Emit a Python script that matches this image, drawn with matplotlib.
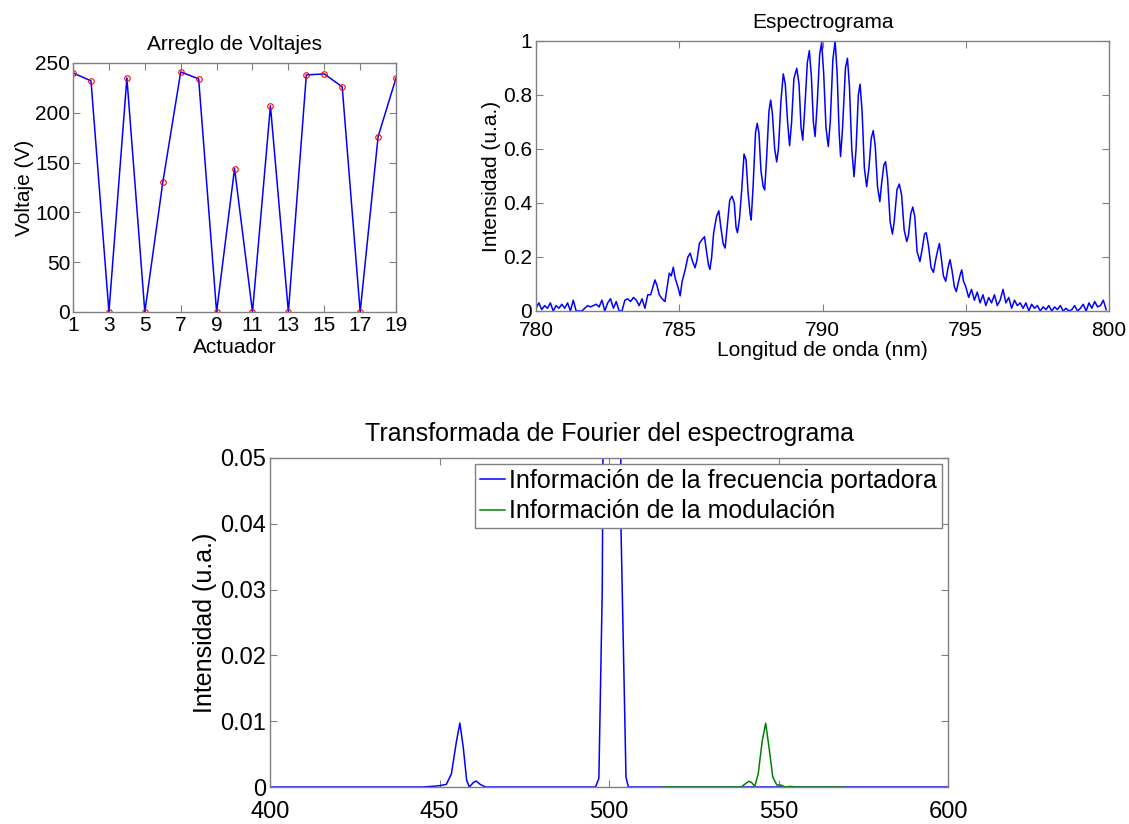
import numpy as np
import matplotlib
matplotlib.use('Agg')
import matplotlib.pyplot as plt

plt.rcParams['font.family'] = ['Liberation Sans', 'DejaVu Sans']

# --- Arreglo de Voltajes ---
actuators = list(range(1, 20))
voltages = [240, 232, 0, 235, 0, 130, 241, 234, 0, 144, 0, 207, 0, 238, 239, 226, 0, 176, 235]
volt_xticks = [1, 3, 5, 7, 9, 11, 13, 15, 17, 19]
volt_yticks = [0, 50, 100, 150, 200, 250]

# --- Espectrograma ---
base_left_nm = [780.0, 780.1, 780.2, 780.3, 780.4, 780.5, 780.6, 780.7, 780.8, 780.9,
                781.0, 781.1, 781.2, 781.3, 781.4, 781.5, 781.6, 781.7, 781.8, 781.9,
                782.0, 782.1, 782.2, 782.3, 782.4, 782.5, 782.6, 782.7, 782.8, 782.9,
                783.0, 783.1, 783.2, 783.3, 783.4, 783.5, 783.6, 783.7, 783.8, 783.9]
base_left_val = [0.01, 0.03, 0.005, 0.02, 0.01, 0.03, 0.0, 0.02, 0.01, 0.025,
                 0.01, 0.03, 0.0, 0.04, 0.0, 0.0, 0.0, 0.01, 0.02, 0.015,
                 0.02, 0.025, 0.015, 0.04, 0.0, 0.03, 0.045, 0.01, 0.035, 0.0,
                 0.0, 0.04, 0.045, 0.035, 0.05, 0.04, 0.02, 0.045, 0.01, 0.06]
fringe_nm = [784.0, 784.08, 784.15, 784.22, 784.3, 784.4, 784.5, 784.58, 784.65, 784.72,
             784.79, 784.86, 784.95, 785.03, 785.1, 785.2, 785.3, 785.38, 785.46, 785.55,
             785.62, 785.7, 785.8, 785.88, 785.95, 786.02, 786.07, 786.13, 786.2, 786.3,
             786.38, 786.45, 786.53, 786.6, 786.68, 786.76, 786.84, 786.92, 786.98, 787.03,
             787.1, 787.18, 787.26, 787.33, 787.4, 787.47, 787.51, 787.58, 787.66, 787.72,
             787.78, 787.85, 787.93, 787.98, 788.05, 788.13, 788.19, 788.25, 788.33, 788.4,
             788.46, 788.55, 788.63, 788.7, 788.78, 788.85, 788.92, 789.0, 789.1, 789.18,
             789.25, 789.31, 789.38, 789.47, 789.54, 789.61, 789.68, 789.74, 789.81, 789.9,
             789.97, 790.04, 790.12, 790.2, 790.27, 790.36, 790.44, 790.51, 790.58, 790.63,
             790.7, 790.8, 790.87, 790.94, 791.02, 791.1, 791.17, 791.25, 791.31, 791.38,
             791.46, 791.54, 791.62, 791.7, 791.77, 791.84, 791.92, 792.0, 792.06, 792.14,
             792.2, 792.27, 792.36, 792.44, 792.5, 792.6, 792.68, 792.76, 792.85, 792.94,
             793.0, 793.08, 793.15, 793.22, 793.3, 793.4, 793.48, 793.56, 793.62, 793.7,
             793.79, 793.87, 793.95, 794.03, 794.08, 794.14, 794.22, 794.3, 794.38, 794.45,
             794.52, 794.6, 794.67, 794.75, 794.82, 794.86, 794.92]
fringe_val = [0.06, 0.09, 0.115, 0.095, 0.06, 0.045, 0.035, 0.09, 0.14, 0.13,
              0.162, 0.12, 0.09, 0.056, 0.11, 0.15, 0.2, 0.214, 0.185, 0.16,
              0.19, 0.25, 0.265, 0.275, 0.22, 0.17, 0.154, 0.2, 0.29, 0.35,
              0.371, 0.31, 0.25, 0.233, 0.32, 0.41, 0.425, 0.40, 0.31, 0.29,
              0.34, 0.45, 0.581, 0.56, 0.44, 0.36, 0.337, 0.47, 0.66, 0.695,
              0.66, 0.52, 0.46, 0.448, 0.57, 0.74, 0.781, 0.73, 0.6, 0.552,
              0.6, 0.78, 0.878, 0.84, 0.7, 0.612, 0.7, 0.86, 0.899, 0.84,
              0.68, 0.633, 0.75, 0.92, 0.964, 0.87, 0.70, 0.646, 0.76, 0.95,
              0.994, 0.88, 0.68, 0.609, 0.7, 0.93, 1.0, 0.88, 0.66, 0.572,
              0.68, 0.9, 0.936, 0.83, 0.6, 0.497, 0.6, 0.80, 0.84, 0.74,
              0.53, 0.46, 0.53, 0.64, 0.668, 0.61, 0.46, 0.405, 0.47, 0.54,
              0.553, 0.49, 0.33, 0.285, 0.33, 0.45, 0.47, 0.43, 0.30, 0.257,
              0.28, 0.36, 0.385, 0.35, 0.22, 0.183, 0.23, 0.285, 0.29, 0.24,
              0.16, 0.143, 0.19, 0.23, 0.25, 0.2, 0.13, 0.11, 0.16, 0.19,
              0.15, 0.09, 0.072, 0.11, 0.14, 0.152, 0.11]
base_right_nm = [795.0, 795.1, 795.2, 795.3, 795.4, 795.5, 795.6, 795.7, 795.8, 795.9,
                 796.0, 796.1, 796.2, 796.3, 796.4, 796.5, 796.6, 796.7, 796.8, 796.9,
                 797.0, 797.1, 797.2, 797.3, 797.4, 797.5, 797.6, 797.7, 797.8, 797.9,
                 798.0, 798.1, 798.2, 798.3, 798.4, 798.5, 798.6, 798.7, 798.8, 798.9,
                 799.0, 799.1, 799.2, 799.3, 799.4, 799.5, 799.6, 799.7, 799.8, 799.9]
base_right_val = [0.09, 0.05, 0.08, 0.04, 0.07, 0.03, 0.06, 0.02, 0.05, 0.03,
                  0.06, 0.02, 0.04, 0.08, 0.03, 0.05, 0.01, 0.04, 0.02, 0.03,
                  0.01, 0.03, 0.0, 0.025, 0.01, 0.02, 0.0, 0.015, 0.005, 0.02,
                  0.0, 0.015, 0.005, 0.02, 0.0, 0.01, 0.0, 0.005, 0.02, 0.0,
                  0.01, 0.025, 0.0, 0.03, 0.01, 0.035, 0.015, 0.02, 0.04, 0.005]
spec_xticks = [780, 785, 790, 795, 800]
spec_yticks = [0, 0.2, 0.4, 0.6, 0.8, 1]
spec_ylabels = ['0', '0.2', '0.4', '0.6', '0.8', '1']

# --- Transformada de Fourier ---
carrier_x = [400, 445, 448, 450, 452, 453.5, 455, 456, 457, 458, 458.8, 460, 460.8, 462, 463.5,
             496, 497, 498, 498.5, 499.5, 500.5, 501.5, 502.5, 503, 503.5, 505, 505.7, 600]
carrier_y = [0, 0, 0.0001, 0.0002, 0.0004, 0.002, 0.007, 0.0097, 0.006, 0.001, 0.0, 0.0007, 0.0009, 0.0004, 0.0,
             0.0, 0.0013, 0.03, 0.08, 0.4, 0.9, 1.0, 0.6, 0.2, 0.04, 0.0015, 0.0, 0.0]
modul_x = [516, 539, 540, 541.2, 542, 543, 544, 545.2, 546.2, 547.2, 548.3, 549.5, 550.6, 552, 553.6, 555, 569]
modul_y = [0, 0, 0.0004, 0.00086, 0.0007, 0.0001, 0.002, 0.007, 0.0097, 0.006, 0.0015, 0.0003, 0.0003, 0.0, 0.0001, 0, 0]
ft_xticks = [400, 450, 500, 550, 600]
ft_yticks = [0, 0.01, 0.02, 0.03, 0.04, 0.05]
ft_ylabels = ['0', '0.01', '0.02', '0.03', '0.04', '0.05']
legend_labels = ['Información de la frecuencia portadora', 'Información de la modulación']


def matlab_box(ax, size, xpad, ypad):
  for s in ax.spines.values():
    s.set_color('0.5')
    s.set_linewidth(1.0)
  ax.tick_params(direction='in', top=True, right=True, length=5, width=0.8,
                 color='0.5', labelsize=size, labelcolor='black')
  ax.tick_params(axis='x', pad=xpad)
  ax.tick_params(axis='y', pad=ypad)


fig = plt.figure(figsize=(11.29, 8.24), dpi=100)

ax1 = fig.add_axes([0.0647, 0.6214, 0.2861, 0.3022])
ax1.plot(actuators, voltages, color='blue', lw=1.1)
ax1.plot(actuators, voltages, 'o', mfc='none', mec='red', ms=4, mew=0.8)
ax1.set_xlim(1, 19)
ax1.set_ylim(0, 250)
ax1.set_xticks(volt_xticks)
ax1.set_yticks(volt_yticks)
matlab_box(ax1, 15, 3, 2)
ax1.set_title('Arreglo de Voltajes', fontsize=15, pad=9)
ax1.set_xlabel('Actuador', fontsize=15, labelpad=2)
ax1.set_ylabel('Voltaje (V)', fontsize=15, labelpad=1)

ax2 = fig.add_axes([0.4748, 0.6226, 0.5075, 0.3277])
spec_nm = base_left_nm + fringe_nm + base_right_nm
spec_val = base_left_val + fringe_val + base_right_val
ax2.plot(spec_nm, spec_val, color='blue', lw=1.1)
ax2.set_xlim(780, 800)
ax2.set_ylim(0, 1)
ax2.set_xticks(spec_xticks)
ax2.set_yticks(spec_yticks)
ax2.set_yticklabels(spec_ylabels)
matlab_box(ax2, 15, 7, 3)
ax2.set_title('Espectrograma', fontsize=15, pad=9)
ax2.set_xlabel('Longitud de onda (nm)', fontsize=15, labelpad=1)
ax2.set_ylabel('Intensidad (u.a.)', fontsize=15, labelpad=1)

ax3 = fig.add_axes([0.2392, 0.0449, 0.6005, 0.3993])
ax3.plot(carrier_x, carrier_y, color='blue', lw=1.1, label=legend_labels[0])
ax3.plot(modul_x, modul_y, color='#008000', lw=1.1, label=legend_labels[1])
ax3.set_xlim(400, 600)
ax3.set_ylim(0, 0.05)
ax3.set_xticks(ft_xticks)
ax3.set_yticks(ft_yticks)
ax3.set_yticklabels(ft_ylabels)
matlab_box(ax3, 17, 10, 3)
ax3.set_title('Transformada de Fourier del espectrograma', fontsize=18, pad=12)
ax3.set_ylabel('Intensidad (u.a.)', fontsize=18, labelpad=2)
leg = ax3.legend(loc='upper right', fontsize=18, fancybox=False, framealpha=1,
                 edgecolor='0.5', borderaxespad=0.25, handlelength=1.0,
                 handletextpad=0.15, borderpad=0.2, labelspacing=0.25)
leg.get_frame().set_linewidth(1.0)

fig.savefig('out.png', dpi=100)
